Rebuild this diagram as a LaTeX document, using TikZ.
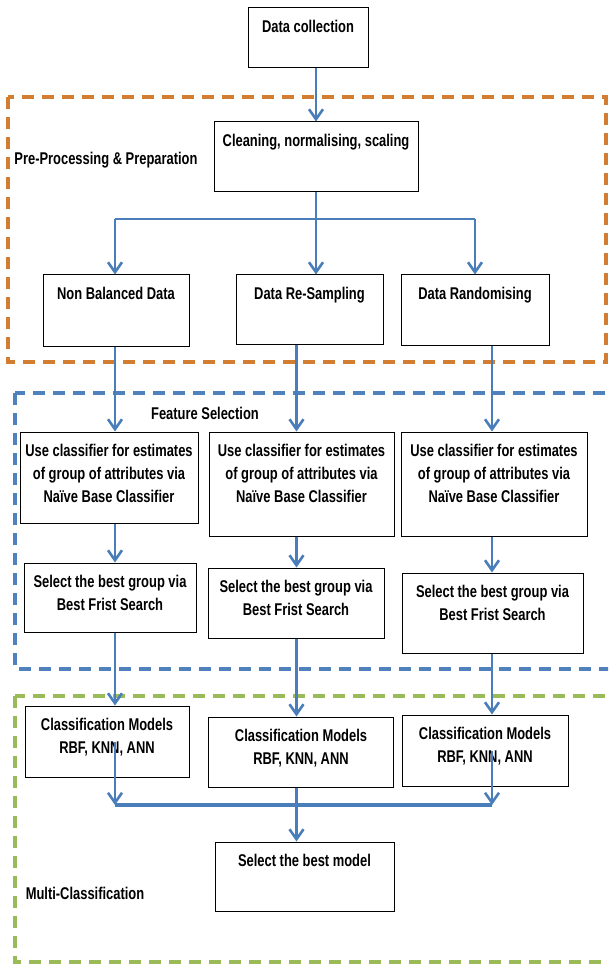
\documentclass[tikz,border=0pt]{standalone}
\usepackage{fontspec}
\setmainfont{Liberation Sans}[FakeStretch=0.76]
\usepackage{tikz}
\usetikzlibrary{arrows.meta,positioning,calc}

\definecolor{flowblue}{RGB}{74,126,187}
\definecolor{prepor}{RGB}{210,125,50}
\definecolor{featbl}{RGB}{79,129,189}
\definecolor{multgr}{RGB}{155,187,89}

\tikzset{
  box/.style={draw=black, line width=1pt, inner sep=0pt},
  boxtxt/.style={anchor=north, yshift=-12.5pt, inner sep=0pt, align=center,
    font=\bfseries\fontsize{17}{23}\selectfont},
  plain/.style={inner sep=0pt, font=\bfseries\fontsize{17}{23}\selectfont},
  flow/.style={draw=flowblue, line width=2.6pt, -{Straight Barb[length=10pt,width=14pt]}},
  link/.style={draw=flowblue, line width=2.6pt},
  group/.style={line width=3.5pt, dash pattern=on 12pt off 8pt},
}

\begin{document}
\begin{tikzpicture}[x=1pt,y=-1pt]
\useasboundingbox (0,0) rectangle (608,965);
\clip (0,0) rectangle (608,965);

% stage frames
\draw[group, prepor] (8,97) rectangle (606,362);
\draw[group, featbl] (15,393) rectangle (614,669);
\draw[group, multgr] (15,696) rectangle (614,962);

\node[plain] (pp) at (106,160) {Pre-Processing \& Preparation};
\node[plain] (fs) at (205,413) {Feature Selection};
\node[plain] (mc) at (85,893) {Multi-Classification};

% columns
\coordinate (c1) at (115,0);
\coordinate (c2) at (296.5,0);
\coordinate (c3) at (492,0);

% boxes
\node[box, minimum width=120, minimum height=60, label={[boxtxt]north:Data collection}] (dc) at (308,38) {};
\node[box, minimum width=204, minimum height=70, label={[boxtxt]north:Cleaning, normalising, scaling}] (cl) at (316,157) {};

\node[box, minimum width=146, minimum height=71, label={[boxtxt]north:Non Balanced Data}] (nb) at (116,310.5) {};
\node[box, minimum width=147, minimum height=69, label={[boxtxt]north:Data Re-Sampling}] (rs) at (309.5,309.5) {};
\node[box, minimum width=148, minimum height=70, label={[boxtxt]north:Data Randomising}] (rnd) at (475,310) {};

\node[box, minimum width=178, minimum height=91, label={[boxtxt]north:Use classifier for estimates\\of group of attributes via\\Naïve Base Classifier}] (use1) at (109,477.5) {};
\node[box, minimum width=185, minimum height=104, label={[boxtxt]north:Use classifier for estimates\\of group of attributes via\\Naïve Base Classifier}] (use2) at (301.5,484) {};
\node[box, minimum width=186, minimum height=104, label={[boxtxt]north:Use classifier for estimates\\of group of attributes via\\Naïve Base Classifier}] (use3) at (494,484) {};

\node[box, minimum width=172, minimum height=69, label={[boxtxt]north:Select the best group via\\Best Frist Search}] (sel1) at (110,597.5) {};
\node[box, minimum width=176, minimum height=70, label={[boxtxt]north:Select the best group via\\Best Frist Search}] (sel2) at (296,603) {};
\node[box, minimum width=181, minimum height=80, label={[boxtxt]north:Select the best group via\\Best Frist Search}] (sel3) at (492.5,613) {};

\node[box, minimum width=164, minimum height=71, label={[boxtxt]north:Classification Models\\RBF, KNN, ANN}] (cm1) at (107,741.5) {};
\node[box, minimum width=185, minimum height=70, label={[boxtxt]north:Classification Models\\RBF, KNN, ANN}] (cm2) at (301,752) {};
\node[box, minimum width=166, minimum height=71, label={[boxtxt]north:Classification Models\\RBF, KNN, ANN}] (cm3) at (485,750.5) {};

\node[box, minimum width=179, minimum height=69, label={[boxtxt]north:Select the best model}] (best) at (304.5,876.5) {};

% split and merge points
\coordinate (sp) at (316,219);
\coordinate (mg) at (296.5,805);

% connectors
\draw[flow] (dc.south -| cl) -- (cl.north);
\draw[link] (cl.south) -- (sp);
\draw[link] (sp -| c1) -- (sp -| rnd);
\draw[flow] (sp -| c1) -- (nb.north -| c1);
\draw[flow] (sp) -- (sp |- rs.north);
\draw[flow] (sp -| rnd) -- (rnd.north);

\draw[flow] (nb.south -| c1) -- (use1.north -| c1);
\draw[flow] (rs.south -| c2) -- (use2.north -| c2);
\draw[flow] (rnd.south -| c3) -- (use3.north -| c3);

\draw[flow] (use1.south -| c1) -- (sel1.north -| c1);
\draw[flow] (use2.south -| c2) -- (sel2.north -| c2);
\draw[flow] (use3.south -| c3) -- (sel3.north -| c3);

\draw[flow] (sel1.south -| c1) -- (cm1.north -| c1);
\draw[flow] (sel2.south -| c2) -- (cm2.north -| c2);
\draw[flow] (sel3.south -| c3) -- (cm3.north -| c3);

\draw[link, line width=4pt] (mg -| c1) -- (mg -| c3);
\draw[flow] (cm1 -| c1) -- (mg -| c1);
\draw[link] (cm2.south -| c2) -- (mg);
\draw[flow] (cm3 -| c3) -- (mg -| c3);
\draw[flow] (mg) -- (best.north -| mg);

\end{tikzpicture}
\end{document}
